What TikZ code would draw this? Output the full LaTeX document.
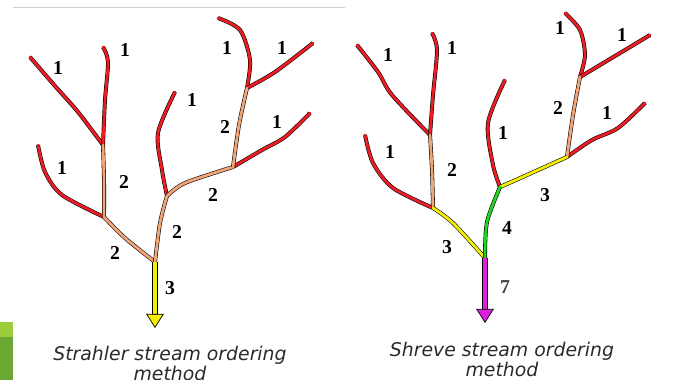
\documentclass[tikz,border=0pt]{standalone}
\usepackage{fontspec}
\setsansfont{DejaVu Sans}
\newfontfamily\ordfont{Liberation Serif}
\usetikzlibrary{arrows.meta}
\definecolor{rivred}{HTML}{EC1C24}
\definecolor{rivorange}{HTML}{F2A476}
\definecolor{rivyellow}{HTML}{F4F000}
\definecolor{rivgreen}{HTML}{22D41E}
\definecolor{rivmagenta}{HTML}{E01EE0}
\definecolor{rulegray}{HTML}{CFCFCF}
\definecolor{barlight}{HTML}{9CCB3C}
\definecolor{bardark}{HTML}{6BA833}
\definecolor{captext}{HTML}{2A2A2A}

\tikzset{
  riv/.style={draw=#1, line width=2pt, line cap=round, line join=round,
    preaction={draw=black, line width=2.8pt}},
  outlet/.style={draw=#1, line width=3.4pt,
    -{Triangle[length=10pt, width=12.5pt, fill=#1, color=black, line width=0.5pt]},
    preaction={draw=black, line width=4.2pt, shorten >=8pt, -}},
  ordlabel/.style={font=\ordfont\bfseries\fontsize{14}{14}\selectfont, inner sep=0pt},
  methodtext/.style={font=\sffamily\itshape\fontsize{13.4}{14.2}\selectfont,
    text=captext, align=center, inner sep=0pt}
}

\begin{document}
\begin{tikzpicture}[x=0.025cm, y=-0.025cm]
  \useasboundingbox (0,0) rectangle (676,380);

  % frame bits
  \draw[rulegray, line width=0.7pt] (13,7) -- (345,7);
  \fill[barlight] (0,322) rectangle (13,337);
  \fill[bardark] (0,337) rectangle (13,380);

  % Strahler junctions
  \coordinate (sA) at (155,262);
  \coordinate (sB) at (103,145);
  \coordinate (sC) at (104,217);
  \coordinate (sD) at (167,196);
  \coordinate (sE) at (233,167);
  \coordinate (sF) at (247,88);
  \coordinate (sOut) at (155,328);

  % Strahler streams
  \draw[riv=rivred] plot[smooth, tension=0.5] coordinates {(30,57) (55,86) (78,112) (sB)};
  \draw[riv=rivred] plot[smooth, tension=0.5] coordinates {(103,47) (108,62) (105,100) (sB)};
  \draw[riv=rivred] plot[smooth, tension=0.5] coordinates {(38,145) (45,172) (62,195) (sC)};
  \draw[riv=rivred] plot[smooth, tension=0.5] coordinates {(175,92) (158,133) (162,170) (sD)};
  \draw[riv=rivred] plot[smooth, tension=0.5] coordinates {(218,18) (240,30) (250,60) (sF)};
  \draw[riv=rivred] plot[smooth, tension=0.5] coordinates {(sF) (275,72) (313,43)};
  \draw[riv=rivred] plot[smooth, tension=0.5] coordinates {(sE) (262,150) (285,137) (310,113)};
  \draw[riv=rivorange] plot[smooth, tension=0.5] coordinates {(sB) (104,180) (sC)};
  \draw[riv=rivorange] plot[smooth, tension=0.5] coordinates {(sC) (125,238) (sA)};
  \draw[riv=rivorange] plot[smooth, tension=0.5] coordinates {(sD) (160,223) (sA)};
  \draw[riv=rivorange] plot[smooth, tension=0.5] coordinates {(sD) (185,183) (sE)};
  \draw[riv=rivorange] plot[smooth, tension=0.5] coordinates {(sE) (239,125) (sF)};
  \draw[outlet=rivyellow] (sA) -- (sOut);

  % Strahler orders
  \node[ordlabel] (s1a) at (58,68) {1};
  \node[ordlabel] (s1b) at (125,50) {1};
  \node[ordlabel] (s1c) at (227,48) {1};
  \node[ordlabel] (s1d) at (282,48) {1};
  \node[ordlabel] (s1e) at (192,100) {1};
  \node[ordlabel] (s1f) at (277,122) {1};
  \node[ordlabel] (s1g) at (62,168) {1};
  \node[ordlabel] (s2a) at (225,127) {2};
  \node[ordlabel] (s2b) at (124,182) {2};
  \node[ordlabel] (s2c) at (213,195) {2};
  \node[ordlabel] (s2d) at (177,232) {2};
  \node[ordlabel] (s2e) at (115,253) {2};
  \node[ordlabel] (s3) at (170,288) {3};
  \node[methodtext] (strahler) at (170,363) {Strahler stream ordering\\method};

  % Shreve junctions
  \coordinate (tA) at (485,258);
  \coordinate (tB) at (430,135);
  \coordinate (tC) at (433,208);
  \coordinate (tD) at (500,187);
  \coordinate (tE) at (567,157);
  \coordinate (tF) at (580,77);
  \coordinate (tOut) at (485,323);

  % Shreve streams
  \draw[riv=rivred] plot[smooth, tension=0.5] coordinates {(357,45) (378,72) (392,95) (tB)};
  \draw[riv=rivred] plot[smooth, tension=0.5] coordinates {(432,33) (437,50) (433,95) (tB)};
  \draw[riv=rivred] plot[smooth, tension=0.5] coordinates {(365,135) (373,163) (393,188) (tC)};
  \draw[riv=rivred] plot[smooth, tension=0.5] coordinates {(505,80) (488,123) (493,165) (tD)};
  \draw[riv=rivred] plot[smooth, tension=0.5] coordinates {(565,13) (580,30) (585,55) (tF)};
  \draw[riv=rivred] plot[smooth, tension=0.5] coordinates {(tF) (605,62) (650,35)};
  \draw[riv=rivred] plot[smooth, tension=0.5] coordinates {(tE) (592,140) (618,128) (645,103)};
  \draw[riv=rivorange] plot[smooth, tension=0.5] coordinates {(tB) (432,170) (tC)};
  \draw[riv=rivorange] plot[smooth, tension=0.5] coordinates {(tE) (573,115) (tF)};
  \draw[riv=rivyellow] plot[smooth, tension=0.5] coordinates {(tC) (453,223) (tA)};
  \draw[riv=rivyellow] plot[smooth, tension=0.5] coordinates {(tD) (527,175) (tE)};
  \draw[riv=rivgreen] plot[smooth, tension=0.5] coordinates {(tD) (487,222) (tA)};
  \draw[outlet=rivmagenta] (tA) -- (tOut);

  % Shreve orders
  \node[ordlabel] (t1a) at (388,55) {1};
  \node[ordlabel] (t1b) at (452,48) {1};
  \node[ordlabel] (t1c) at (560,28) {1};
  \node[ordlabel] (t1d) at (622,35) {1};
  \node[ordlabel] (t1e) at (607,113) {1};
  \node[ordlabel] (t1f) at (503,133) {1};
  \node[ordlabel] (t1g) at (390,152) {1};
  \node[ordlabel] (t2a) at (558,108) {2};
  \node[ordlabel] (t2b) at (452,170) {2};
  \node[ordlabel] (t3a) at (545,195) {3};
  \node[ordlabel] (t4) at (507,228) {4};
  \node[ordlabel] (t3b) at (447,247) {3};
  \node[ordlabel, text=black!75] (t7) at (505,287) {7};
  \node[methodtext] (shreve) at (502,359) {Shreve stream ordering\\method};
\end{tikzpicture}
\end{document}
